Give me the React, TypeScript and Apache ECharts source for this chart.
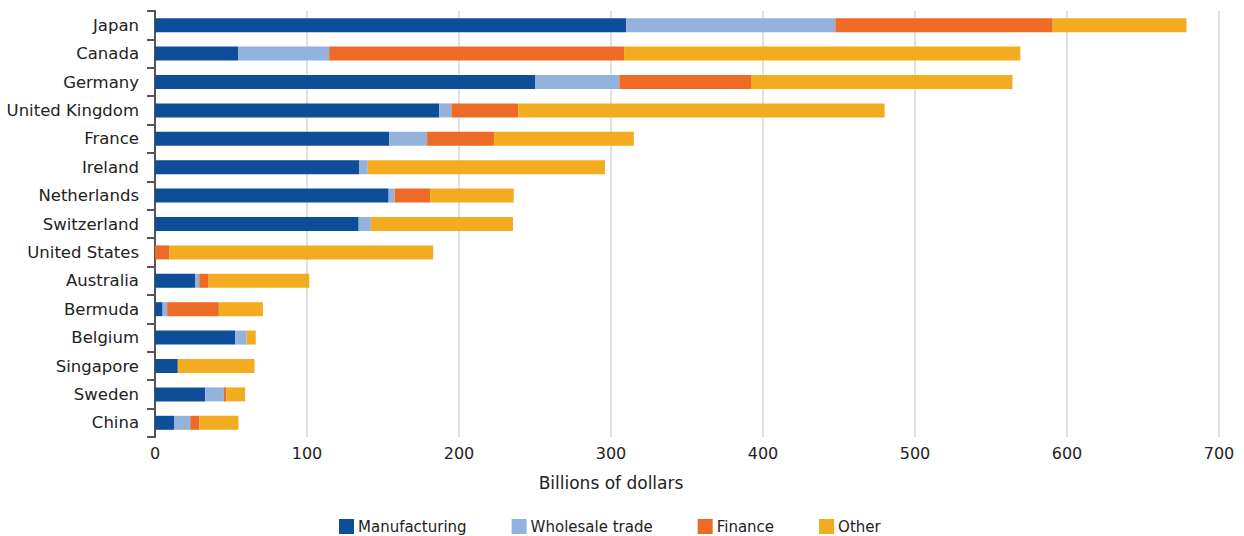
import React, { useEffect, useRef } from "react";
import * as echarts from "echarts";

const countries = [
  "Japan",
  "Canada",
  "Germany",
  "United Kingdom",
  "France",
  "Ireland",
  "Netherlands",
  "Switzerland",
  "United States",
  "Australia",
  "Bermuda",
  "Belgium",
  "Singapore",
  "Sweden",
  "China",
];

const manufacturing = [310, 54.6, 250, 187, 154, 134.5, 153.7, 134, 0, 26.3, 5, 52.8, 15, 33, 12.5];
const wholesaleTrade = [137.6, 60, 55.5, 8, 25, 5.5, 4, 8, 0, 2.8, 3, 7.5, 0, 12.3, 10.7];
const finance = [143, 194, 86.6, 44, 44, 0, 23.3, 0, 9.5, 6.2, 34, 0, 0, 1.7, 6];
const other = [88, 260.7, 172, 241, 92, 156, 55, 93.5, 173.5, 66.2, 29, 6, 50.5, 12.3, 25.7];

const seriesNames = ["Manufacturing", "Wholesale trade", "Finance", "Other"];
const seriesColors = ["#0e4d97", "#94b3dc", "#ed6b26", "#f3ab1f"];
const xTicks = [0, 100, 200, 300, 400, 500, 600, 700];

const FONT = "'DejaVu Sans', sans-serif";

export default function App() {
  const ref = useRef<HTMLDivElement>(null);

  useEffect(() => {
    if (!ref.current) return;
    const chart = echarts.init(ref.current, undefined, { renderer: "svg" });
    const seriesData = [manufacturing, wholesaleTrade, finance, other];
    chart.setOption({
      animation: false,
      textStyle: { fontFamily: FONT },
      grid: { left: 155, right: 25, top: 11, bottom: 99, containLabel: false },
      legend: {
        top: 514,
        left: 334,
        itemWidth: 15,
        itemHeight: 15,
        itemGap: 45,
        icon: "rect",
        textStyle: { fontFamily: FONT, fontSize: 15, color: "#222", padding: [0, 0, 0, -1] },
        data: seriesNames,
      },
      xAxis: {
        type: "value",
        min: xTicks[0],
        max: xTicks[xTicks.length - 1],
        interval: 100,
        axisLine: { show: false },
        axisTick: { show: false },
        axisLabel: { fontSize: 16, color: "#222", margin: 8, fontFamily: FONT },
        splitLine: { show: true, lineStyle: { color: "#e0e0e0", width: 2 } },
      },
      yAxis: {
        type: "category",
        data: countries,
        inverse: true,
        axisLine: { show: true, lineStyle: { color: "#555", width: 2 } },
        axisTick: { show: true, length: 8, lineStyle: { color: "#555", width: 2 } },
        axisLabel: { fontSize: 16.5, color: "#222", margin: 16, fontFamily: FONT },
        splitLine: { show: false },
      },
      graphic: [
        {
          type: "text",
          x: 611,
          y: 483,
          style: {
            text: "Billions of dollars",
            fontSize: 17,
            fontFamily: FONT,
            fill: "#222",
            textAlign: "center",
            textVerticalAlign: "middle",
          },
        },
      ],
      series: seriesNames.map((name, i) => ({
        name,
        type: "bar",
        stack: "total",
        barWidth: 14,
        itemStyle: { color: seriesColors[i] },
        data: seriesData[i],
      })),
    });
    return () => chart.dispose();
  }, []);

  return (
    <div
      ref={ref}
      style={{ position: "fixed", left: 0, top: 0, width: 1244, height: 536, background: "#fff" }}
    />
  );
}
